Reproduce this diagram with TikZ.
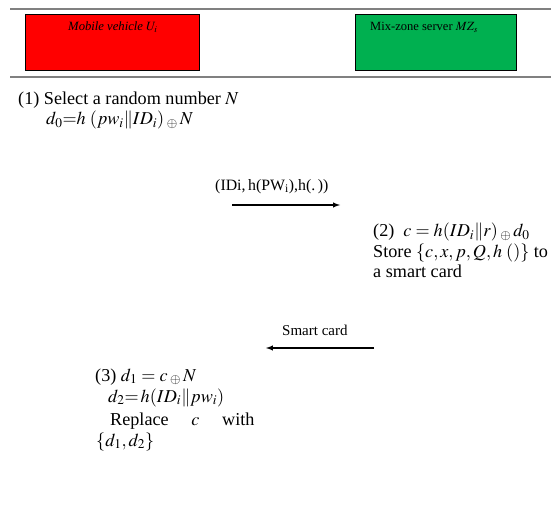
\documentclass[tikz,border=0pt]{standalone}
\usepackage{mathptmx}
\usepackage{fontspec}
\setmainfont{Liberation Serif}
\usetikzlibrary{arrows,positioning}
\definecolor{vehiclered}{RGB}{255,0,0}
\definecolor{servergreen}{RGB}{0,176,80}
\definecolor{rulegray}{RGB}{128,128,128}
\newcommand{\xr}{\mathbin{\raisebox{-2pt}{$\scriptstyle\oplus$}}}

\begin{document}
\begin{tikzpicture}[x=0.03cm,y=-0.03cm,
  party/.style={rectangle,draw,line width=0.8pt,anchor=north west,minimum height=1.68cm},
  step text/.style={anchor=base west,inner sep=0pt,font=\fontsize{15.5}{18}\selectfont},
  msg/.style={anchor=base west,inner sep=0pt,font=\fontsize{13.5}{16}\selectfont},
  flow/.style={-latex,line width=1pt}]
  \useasboundingbox (0,0) rectangle (551,506);

  % parties
  \draw[rulegray,line width=1.6pt] (10,9) -- (551,9);
  \draw[rulegray,line width=1.6pt] (10,77) -- (551,77);
  \node[party,fill=vehiclered,minimum width=5.22cm] (veh) at (25,14) {};
  \node[party,fill=servergreen,minimum width=4.83cm] (srv) at (355,14) {};
  \node[msg,font=\fontsize{10.8}{12}\selectfont\itshape] (vehname) at (68,31) {Mobile vehicle $U_i$};
  \node[msg,font=\fontsize{10.7}{12}\selectfont] (srvname) at (370,31) {Mix-zone server $MZ_s$};

  % step 1
  \node[step text] (s1a) at (18,105) {(1) Select a random number $N$};
  \node[step text] (s1b) at (46,125) {$d_0{=}h\;(pw_i\|ID_i)\xr N$};

  \coordinate (m1s) at (232,205);
  \coordinate (m1e) at (340,205);
  \draw[flow] (m1s) -- (m1e);
  \node[msg] (m1) at (215,190) {(IDi,\,h(PW\textsubscript{i}),h(.\,))};

  % step 2
  \node[step text] (s2a) at (373,237) {(2)\enspace $c = h(ID_i\|r)\xr d_0$};
  \node[step text] (s2b) at (373,257) {Store $\{c, x, p, Q, h\;()\}$ to};
  \node[step text] (s2c) at (373,277) {a smart card};

  \coordinate (m2s) at (374,348);
  \coordinate (m2e) at (266,348);
  \draw[flow] (m2s) -- (m2e);
  \node[msg,font=\fontsize{12.8}{14}\selectfont] (m2) at (282,335) {Smart card};

  % step 3
  \node[step text] (s3a) at (95,381) {(3) $d_1 = c\xr N$};
  \node[step text] (s3b) at (108,402) {$d_2{=}\,h(ID_i\|pw_i)$};
  \node[step text] (s3c) at (110,425) {Replace\quad\ $c$\quad\ with};
  \node[step text] (s3d) at (96,446) {$\{d_1, d_2\}$};
\end{tikzpicture}
\end{document}
